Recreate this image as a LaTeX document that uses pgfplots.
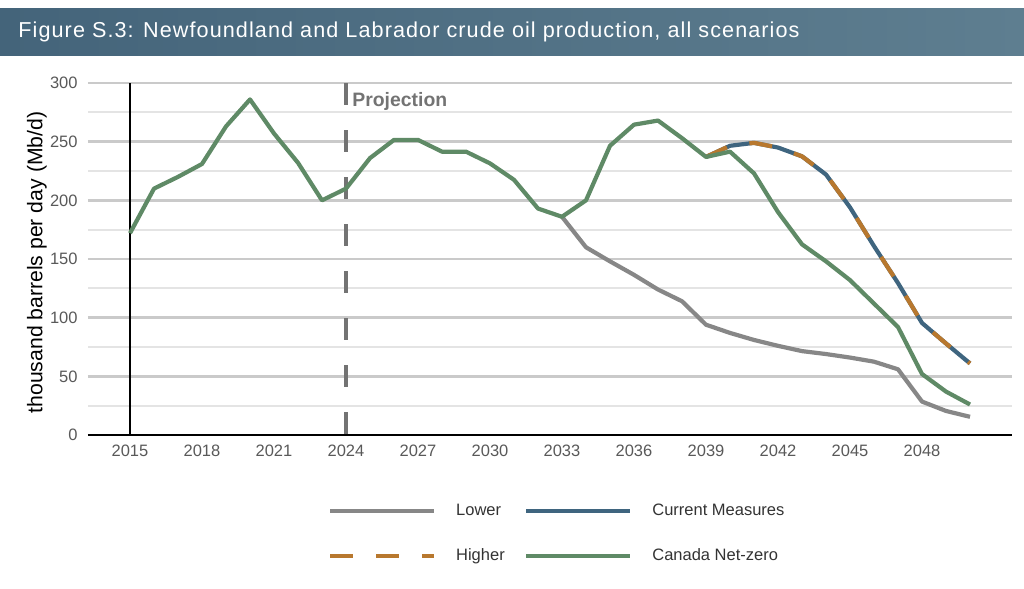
\documentclass[border=0pt]{standalone}
\usepackage{pgfplots}
\pgfplotsset{compat=1.18}
\usepackage{fontspec}
\setmainfont{Liberation Sans}

\definecolor{titleL}{HTML}{44647A}
\definecolor{titleR}{HTML}{5E7E90}
\definecolor{lowgray}{HTML}{878787}
\definecolor{curblue}{HTML}{3F657F}
\definecolor{highorange}{HTML}{B8782E}
\definecolor{nzgreen}{HTML}{5F8A66}
\definecolor{projgray}{HTML}{737373}
\definecolor{gridmaj}{HTML}{CACACA}
\definecolor{gridmin}{HTML}{E4E4E4}
\definecolor{ticktext}{HTML}{595959}
\definecolor{legtext}{HTML}{333333}

\begin{document}
\begin{tikzpicture}
\path[use as bounding box] (0,0) rectangle (512bp,-294.5bp);
% title bar
\shade[left color=titleL, right color=titleR] (0,-4bp) rectangle (512bp,-27.5bp);
\node[anchor=west, inner sep=0pt, text=white,
      font=\fontsize{10.8bp}{12bp}\selectfont\addfontfeatures{LetterSpace=5}]
  at (9bp,-15.75bp) {Figure S.3: Newfoundland and Labrador crude oil production, all scenarios};

\begin{axis}[
  at={(44bp,-217.5bp)}, anchor=south west,
  scale only axis, width=462bp, height=176bp,
  xmin=2013.25, xmax=2051.75, ymin=0, ymax=300,
  xtick={2015,2018,...,2048},
  ytick={0,50,...,300},
  minor ytick={25,75,...,275},
  ymajorgrids, yminorgrids,
  major grid style={draw=gridmaj, line width=1.4bp},
  minor grid style={draw=gridmin, line width=1bp},
  major tick length=0pt, minor tick length=0pt,
  axis x line*=bottom, axis y line*=left,
  y axis line style={draw=none},
  x axis line style={draw=black, line width=0.8bp, -},
  tick label style={font=\fontsize{8.25bp}{10bp}\selectfont, text=ticktext,
    /pgf/number format/assume math mode=true},
  xticklabel style={/pgf/number format/1000 sep={}, anchor=north, inner sep=0pt, yshift=-5bp},
  yticklabel style={anchor=east, inner sep=0pt, xshift=-5bp},
  ylabel={thousand barrels per day (Mb/d)},
  ylabel style={font=\fontsize{10.6bp}{12bp}\selectfont, text=black,
    at={(axis description cs:-0.0552,0.49)}, anchor=center},
  legend image code/.code={\draw[#1, line cap=butt] (0bp,0bp) -- (52bp,0bp);},
  legend columns=2,
  legend cell align=left,
  legend style={draw=none, fill=none, inner sep=0pt, outer sep=0pt,
    at={(axis description cs:0.2597,-0.2797)}, anchor=west,
    nodes={inner sep=0pt, font=\fontsize{8.25bp}{10bp}\selectfont, text=legtext},
    row sep=15bp,
    /tikz/every odd column/.append style={column sep=10bp}},
  every axis plot/.append style={line width=2.1bp, line join=round},
]
% reference lines
\addplot[forget plot, black, line width=1.3bp] coordinates {(2015,0) (2015,300)};
\addplot[forget plot, projgray, line width=2bp, dash pattern=on 11.2bp off 12.3bp]
  coordinates {(2024,300) (2024,0)};
\node[anchor=base west, inner sep=0pt, text=projgray,
      font=\bfseries\fontsize{9.7bp}{11bp}\selectfont] at (axis cs:2024.25,279.8) {Projection};

% Lower
\addplot[lowgray] table {
x y
2033 186
2034 160
2035 148
2036 136.5
2037 124
2038 114
2039 94
2040 87
2041 81
2042 76
2043 71.5
2044 69
2045 66
2046 62.5
2047 56
2048 28.5
2049 20.5
2050 15.5
};
\addlegendentry{\makebox[34bp][l]{Lower}}
% Current Measures
\addplot[curblue] table {
x y
2039 237
2040 246.5
2041 249
2042 245
2043 237.5
2044 222
2045 194
2046 161
2047 129.5
2048 95.5
2049 78
2050 61
};
\addlegendentry{Current Measures}
% Higher
\addplot[highorange, dash pattern=on 11.5bp off 11.5bp] table {
x y
2039 237
2040 246.5
2041 249
2042 245
2043 237.5
2044 222
2045 194
2046 161
2047 129.5
2048 95.5
2049 78
2050 61
};
\addlegendentry{\makebox[34bp][l]{Higher}}
% Canada Net-zero
\addplot[nzgreen] table {
x y
2015 172
2016 210
2017 220
2018 231
2019 263
2020 286
2021 257
2022 232
2023 200
2024 210
2025 236
2026 251.5
2027 251.5
2028 241.5
2029 241.5
2030 231.5
2031 217.5
2032 193
2033 186
2034 200
2035 246.5
2036 264.5
2037 268
2038 253
2039 237
2040 241.5
2041 223
2042 190
2043 162.5
2044 148
2045 132
2046 112
2047 92
2048 52
2049 37
2050 26
};
\addlegendentry{Canada Net-zero}
\end{axis}
\end{tikzpicture}
\end{document}
